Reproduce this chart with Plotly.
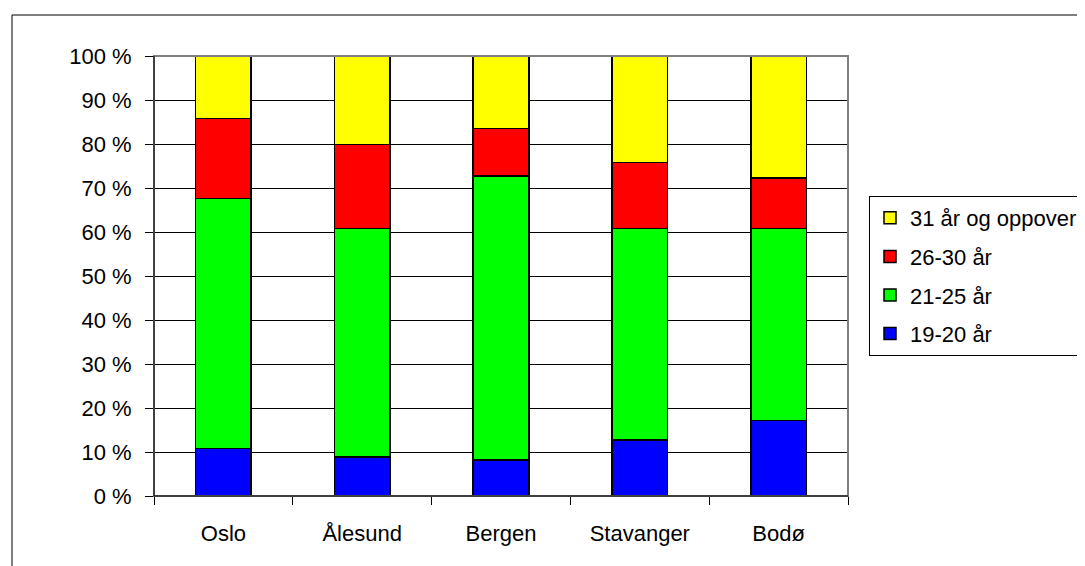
import plotly.graph_objects as go

categories = ["Oslo", "Ålesund", "Bergen", "Stavanger", "Bodø"]
series_names = ["19-20 år", "21-25 år", "26-30 år", "31 år og oppover"]
age_19_20 = [10.8, 8.9, 8.2, 12.7, 17.2]
age_21_25 = [56.8, 51.9, 64.5, 48.1, 43.6]
age_26_30 = [18.2, 19.1, 10.8, 15.0, 11.5]
age_31_up = [14.2, 20.1, 16.5, 24.2, 27.7]
y_tick_vals = [0, 10, 20, 30, 40, 50, 60, 70, 80, 90, 100]
y_tick_text = ["0 %", "10 %", "20 %", "30 %", "40 %", "50 %", "60 %", "70 %", "80 %", "90 %", "100 %"]

colors = ["#0000FF", "#00FF00", "#FF0000", "#FFFF00"]
values = [age_19_20, age_21_25, age_26_30, age_31_up]
legend_ranks = [4, 3, 2, 1]

OFF = 8  # default page body margin
W, H = 1130 - OFF, 566 - OFF
L, R, T, B = 154 - OFF, 848 - OFF, 56 - OFF, 496 - OFF
FONT = "Liberation Sans, Arial, sans-serif"

fig = go.Figure()
for name, vals, col, rank in zip(series_names, values, colors, legend_ranks):
    fig.add_trace(go.Bar(
        x=categories, y=vals, name=name, legendgroup=name, legendrank=rank,
        marker=dict(color=col, line=dict(color="black", width=1.5)),
    ))

pw, ph = R - L, B - T
def px_x(p):
    return (p - OFF - L) / pw
def px_y(p):
    return (B - (p - OFF)) / ph

fig.update_layout(
    width=W, height=H,
    margin=dict(l=L, r=W - R, t=T, b=H - B, pad=0),
    barmode="stack", bargap=0.6,
    paper_bgcolor="white", plot_bgcolor="white",
    font=dict(family=FONT, size=22, color="black"),
    showlegend=True,
    legend=dict(
        x=px_x(869), y=px_y(196), xanchor="left", yanchor="top",
        traceorder="grouped", tracegroupgap=7,
        bordercolor="black", borderwidth=1, bgcolor="white",
        font=dict(family=FONT, size=22, color="black"),
        itemwidth=30,
    ),
    xaxis=dict(
        type="category", showgrid=False, showline=True, linecolor="black", linewidth=1,
        ticks="outside", ticklen=8, tickcolor="black", tickson="boundaries",
        ticklabelstandoff=18,
    ),
    yaxis=dict(
        range=[0, 100], tickvals=y_tick_vals, ticktext=y_tick_text,
        showgrid=True, gridcolor="black", gridwidth=1,
        showline=True, linecolor="black", linewidth=1,
        ticks="outside", ticklen=8, tickcolor="black",
        ticklabelstandoff=9, zeroline=False,
    ),
    shapes=[
        dict(type="rect", xref="paper", yref="paper", x0=0, x1=1, y0=0, y1=1,
             line=dict(color="#808080", width=2), layer="above"),
        dict(type="line", xref="paper", yref="paper", x0=0, x1=0, y0=0, y1=1,
             line=dict(color="black", width=1), layer="above"),
        dict(type="line", xref="paper", yref="paper", x0=0, x1=1, y0=0, y1=0,
             line=dict(color="black", width=1), layer="above"),
        dict(type="rect", xref="paper", yref="paper",
             x0=px_x(12), x1=px_x(1300), y0=px_y(700), y1=px_y(15),
             line=dict(color="black", width=1), layer="below"),
    ],
)

fig.write_html("out.html", post_script="document.body.style.overflow='hidden';")
